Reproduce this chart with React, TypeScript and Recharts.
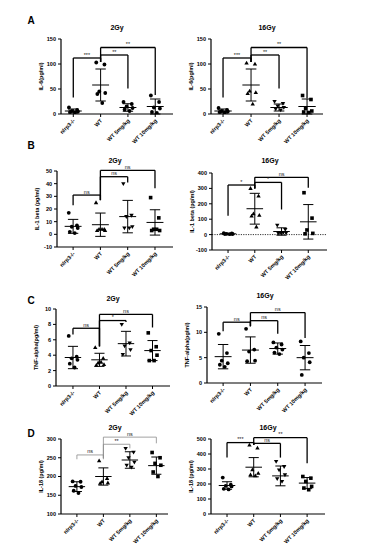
import React from 'react';
import { ScatterChart, Scatter, XAxis, YAxis, ReferenceLine } from 'recharts';

const FONT = "'Liberation Sans', Arial, Helvetica, sans-serif";
const GROUPS = ['nlrp3-/-', 'WT', 'WT 5mg/kg', 'WT 10mg/kg'];
const GROUP_INDEX = [0, 1, 2, 3];
const JITTER = [-0.16, 0.14, -0.05, 0.17, -0.12, 0.06];

// ---- A: IL-6 ----
const IL6_2GY_POINTS = [[13, 8, 6, 5, 4, 3], [103, 99, 45, 42, 40, 22], [24, 20, 15, 12, 9, 6], [37, 24, 13, 11, 4, 2]];
const IL6_2GY_MEAN = [6, 58, 13, 15];
const IL6_2GY_SD = [4, 32, 7.5, 15];
const IL6_2GY_SIG = [
  { from: 0, to: 1, y: 112, leftEnd: 33, rightEnd: 104, text: '***' },
  { from: 1, to: 2, y: 118, leftEnd: 104, rightEnd: 51, text: '**' },
  { from: 1, to: 3, y: 133, leftEnd: 104, rightEnd: 38, text: '**' },
];
const IL6_16GY_POINTS = [[12, 8, 6, 5, 4, 3], [102, 100, 46, 43, 41, 20], [25, 21, 16, 13, 10, 8], [37, 29, 11, 6, 4, 3]];
const IL6_16GY_MEAN = [6, 58, 13, 15];
const IL6_16GY_SD = [4, 32, 7, 15];
const IL6_16GY_SIG = [
  { from: 0, to: 1, y: 112, leftEnd: 33, rightEnd: 104, text: '***' },
  { from: 1, to: 2, y: 118, leftEnd: 104, rightEnd: 51, text: '**' },
  { from: 1, to: 3, y: 133, leftEnd: 104, rightEnd: 31, text: '**' },
];
const IL6_TICKS = [0, 50, 100, 150];

// ---- B: IL-1 beta ----
const IL1_2GY_POINTS = [[17, 7, 6, 5, 2, 1], [25, 4, 4, 3, 3, 4], [40, 15, 14, 6, 5, 5], [29, 13, 4, 3, 3, 4]];
const IL1_2GY_MEAN = [6.3, 7.6, 14, 9.4];
const IL1_2GY_SD = [5.5, 9.2, 12.8, 10];
const IL1_2GY_SIG = [
  { from: 0, to: 1, y: 31, leftEnd: 23, rightEnd: 27, text: 'ns' },
  { from: 1, to: 2, y: 45.5, leftEnd: 27, rightEnd: 41, text: 'ns' },
  { from: 1, to: 3, y: 50.5, leftEnd: 27, rightEnd: 36.4, text: 'ns' },
];
const IL1_2GY_TICKS = [-10, 0, 10, 20, 30, 40, 50];
const IL1_16GY_POINTS = [[9, 7, 5, 4, 4, 3], [300, 250, 135, 125, 120, 50], [61, 33, 13, 11, 9, 12], [272, 107, 30, 8, 5]];
const IL1_16GY_MEAN = [5, 168, 20, 83];
const IL1_16GY_SD = [3, 100, 24, 112];
const IL1_16GY_SIG = [
  { from: 0, to: 1, y: 322, leftEnd: 122, rightEnd: 300, text: '*' },
  { from: 1, to: 2, y: 339, leftEnd: 300, rightEnd: 163, text: '*' },
  { from: 1, to: 3, y: 372, leftEnd: 300, rightEnd: 304, text: 'ns' },
];
const IL1_16GY_TICKS = [-100, 0, 100, 200, 300, 400];

// ---- C: TNF-alpha ----
const TNF_2GY_POINTS = [[6.5, 3.8, 3.6, 3.4, 2.9, 2.4], [5.0, 3.6, 3.0, 2.8, 2.7, 3.1], [8.0, 5.6, 5.2, 4.7, 4.1], [6.9, 5.1, 4.6, 4.0, 3.3, 3.3]];
const TNF_2GY_MEAN = [3.7, 3.4, 5.5, 4.6];
const TNF_2GY_SD = [1.45, 0.85, 1.6, 1.3];
const TNF_2GY_SIG = [
  { from: 0, to: 1, y: 7.5, leftEnd: 6.7, rightEnd: 5.15, text: 'ns' },
  { from: 1, to: 2, y: 8.5, leftEnd: 5.15, rightEnd: 8.3, text: '*' },
  { from: 1, to: 3, y: 9.3, leftEnd: 5.15, rightEnd: 7.6, text: 'ns' },
];
const TNF_2GY_TICKS = [0, 2, 4, 6, 8, 10];
const TNF_16GY_POINTS = [[9.7, 5.9, 4.4, 3.9, 3.6, 3.2], [10.7, 6.6, 6.2, 4.4, 4.3], [8.0, 7.6, 7.0, 6.6, 6.0, 5.7], [8.2, 5.9, 5.0, 4.1, 1.6]];
const TNF_16GY_MEAN = [5.2, 6.5, 6.8, 5.0];
const TNF_16GY_SD = [2.4, 2.6, 1.1, 2.4];
const TNF_16GY_SIG = [
  { from: 0, to: 1, y: 12, leftEnd: 10.2, rightEnd: 11.2, text: 'ns' },
  { from: 1, to: 2, y: 12.3, leftEnd: 11.2, rightEnd: 9.7, text: 'ns' },
  { from: 1, to: 3, y: 13.9, leftEnd: 11.2, rightEnd: 8.9, text: 'ns' },
];
const TNF_16GY_TICKS = [0, 5, 10, 15];

// ---- D: IL-18 ----
const IL18_2GY_POINTS = [[187, 186, 175, 172, 162, 156], [242, 195, 186, 183, 182], [275, 265, 250, 238, 230, 225], [264, 250, 235, 230, 212, 200]];
const IL18_2GY_MEAN = [173, 200, 244, 229];
const IL18_2GY_SD = [13, 23, 22, 23];
const IL18_2GY_SIG = [
  { from: 0, to: 1, y: 257.5, leftEnd: 246, rightEnd: 246, text: 'ns' },
  { from: 1, to: 2, y: 286, leftEnd: 249, rightEnd: 275, text: '**' },
  { from: 1, to: 3, y: 305, leftEnd: 249, rightEnd: 288.5, text: 'ns' },
];
const IL18_2GY_TICKS = [100, 150, 200, 250, 300];
const IL18_16GY_POINTS = [[243, 195, 188, 184, 168, 164], [460, 440, 295, 272, 262, 255], [350, 316, 294, 261, 235, 217], [250, 239, 217, 184, 173, 162]];
const IL18_16GY_MEAN = [190, 312, 254, 206];
const IL18_16GY_SD = [25, 64, 66, 37];
const IL18_16GY_SIG = [
  { from: 0, to: 1, y: 476, leftEnd: 376, rightEnd: 460, text: '***' },
  { from: 1, to: 2, y: 471, leftEnd: 460, rightEnd: 376, text: 'ns' },
  { from: 1, to: 3, y: 509, leftEnd: 460, rightEnd: 338, text: '**' },
];
const IL18_16GY_TICKS = [0, 100, 200, 300, 400, 500];

const STD_MARKERS = ['circle', 'triangle', 'invtri', 'square'];
const CIRCLES = ['circle', 'circle', 'circle', 'circle'];

const PANELS = [
  { title: '2Gy', yLabel: 'IL-6(pg/ml)', points: IL6_2GY_POINTS, mean: IL6_2GY_MEAN, sd: IL6_2GY_SD, sig: IL6_2GY_SIG, ticks: IL6_TICKS, yDomain: [0, 150], markers: CIRCLES,
    plotLeft: 61, plotRight: 173, yTop: 39, yBottom: 114, xDomain: [-0.45, 3.65], titleX: 117, titleY: 27 },
  { title: '16Gy', yLabel: 'IL-6(pg/ml)', points: IL6_16GY_POINTS, mean: IL6_16GY_MEAN, sd: IL6_16GY_SD, sig: IL6_16GY_SIG, ticks: IL6_TICKS, yDomain: [0, 150], markers: STD_MARKERS,
    plotLeft: 211, plotRight: 323, yTop: 39, yBottom: 114, xDomain: [-0.43, 3.57], titleX: 267, titleY: 27 },
  { title: '2Gy', yLabel: 'IL-1 beta (pg/ml)', points: IL1_2GY_POINTS, mean: IL1_2GY_MEAN, sd: IL1_2GY_SD, sig: IL1_2GY_SIG, ticks: IL1_2GY_TICKS, yDomain: [-10, 50], markers: STD_MARKERS,
    plotLeft: 57, plotRight: 173, yTop: 171, yBottom: 247, xDomain: [-0.59, 3.66], titleX: 115, titleY: 160 },
  { title: '16Gy', yLabel: 'IL-1 beta (pg/ml)', points: IL1_16GY_POINTS, mean: IL1_16GY_MEAN, sd: IL1_16GY_SD, sig: IL1_16GY_SIG, ticks: IL1_16GY_TICKS, yDomain: [-100, 400], markers: STD_MARKERS,
    plotLeft: 212, plotRight: 327, yTop: 173, yBottom: 250, xDomain: [-0.6, 3.7], titleX: 270, titleY: 160, zeroLine: true },
  { title: '2Gy', yLabel: 'TNF-alpha(pg/ml)', points: TNF_2GY_POINTS, mean: TNF_2GY_MEAN, sd: TNF_2GY_SD, sig: TNF_2GY_SIG, ticks: TNF_2GY_TICKS, yDomain: [0, 10], markers: STD_MARKERS,
    plotLeft: 56, plotRight: 170, yTop: 309, yBottom: 386, xDomain: [-0.64, 3.66], titleX: 113, titleY: 298 },
  { title: '16Gy', yLabel: 'TNF-alpha(pg/ml)', points: TNF_16GY_POINTS, mean: TNF_16GY_MEAN, sd: TNF_16GY_SD, sig: TNF_16GY_SIG, ticks: TNF_16GY_TICKS, yDomain: [0, 15], markers: CIRCLES,
    plotLeft: 207, plotRight: 322, yTop: 307, yBottom: 383, xDomain: [-0.59, 3.62], titleX: 265, titleY: 295 },
  { title: '2Gy', yLabel: 'IL-18 (pg/ml)', points: IL18_2GY_POINTS, mean: IL18_2GY_MEAN, sd: IL18_2GY_SD, sig: IL18_2GY_SIG, ticks: IL18_2GY_TICKS, yDomain: [100, 300], markers: STD_MARKERS,
    plotLeft: 61, plotRight: 168, yTop: 439, yBottom: 514, xDomain: [-0.6, 3.44], titleX: 115, titleY: 427, grey: true },
  { title: '16Gy', yLabel: 'IL-18 (pg/ml)', points: IL18_16GY_POINTS, mean: IL18_16GY_MEAN, sd: IL18_16GY_SD, sig: IL18_16GY_SIG, ticks: IL18_16GY_TICKS, yDomain: [0, 500], markers: STD_MARKERS,
    plotLeft: 211, plotRight: 325, yTop: 439, yBottom: 514, xDomain: [-0.6, 3.67], titleX: 268, titleY: 427 },
];

const LETTERS = [
  { t: 'A', x: 31, y: 20 },
  { t: 'B', x: 31, y: 145 },
  { t: 'C', x: 31, y: 300 },
  { t: 'D', x: 31, y: 433 },
];

function makeShape(kind: string) {
  return (p: any) => {
    const { cx, cy } = p;
    if (cx == null || cy == null) return <g />;
    if (kind === 'triangle') return <path d={`M${cx},${cy - 2.3}L${cx + 2.2},${cy + 1.5}L${cx - 2.2},${cy + 1.5}Z`} fill="#000" />;
    if (kind === 'invtri') return <path d={`M${cx},${cy + 2.3}L${cx + 2.2},${cy - 1.5}L${cx - 2.2},${cy - 1.5}Z`} fill="#000" />;
    if (kind === 'square') return <rect x={cx - 1.8} y={cy - 1.8} width={3.6} height={3.6} fill="#000" />;
    return <circle cx={cx} cy={cy} r={1.9} fill="#000" />;
  };
}

function XTick(props: any) {
  const { x, y, payload } = props;
  return (
    <text x={x} y={y} dy={3} transform={`rotate(-45 ${x} ${y})`} textAnchor="end" fontSize={5.5} fontWeight={700} fill="#000" fontFamily={FONT}>
      {GROUPS[payload.value]}
    </text>
  );
}

function Panel({ cfg }: { cfg: any }) {
  const YW = 32, MT = 22, MR = 6, XH = 42;
  const width = cfg.plotRight - cfg.plotLeft + YW + MR;
  const height = cfg.yBottom - cfg.yTop + MT + XH;
  const bColor = cfg.grey ? '#8a8a8a' : '#000';
  const bWidth = cfg.grey ? 0.8 : 1.3;
  const lines: any[] = [];
  cfg.sig.forEach((b: any, k: number) => {
    lines.push(
      <ReferenceLine key={`bh${k}`} ifOverflow="visible" stroke={bColor} strokeWidth={bWidth}
        segment={[{ x: b.from, y: b.y }, { x: b.to, y: b.y }]}
        label={{ value: b.text, position: 'top', offset: 1.5, fontSize: 5.5, fill: '#222', fontFamily: FONT }} />,
      <ReferenceLine key={`bl${k}`} ifOverflow="visible" stroke={bColor} strokeWidth={bWidth}
        segment={[{ x: b.from, y: b.y }, { x: b.from, y: b.leftEnd }]} />,
      <ReferenceLine key={`br${k}`} ifOverflow="visible" stroke={bColor} strokeWidth={bWidth}
        segment={[{ x: b.to, y: b.y }, { x: b.to, y: b.rightEnd }]} />
    );
  });
  GROUP_INDEX.forEach((i) => {
    const m = cfg.mean[i];
    const s = cfg.sd[i];
    lines.push(
      <ReferenceLine key={`m${i}`} ifOverflow="visible" stroke="#000" strokeWidth={1}
        segment={[{ x: i - 0.31, y: m }, { x: i + 0.31, y: m }]} />,
      <ReferenceLine key={`v${i}`} ifOverflow="visible" stroke="#000" strokeWidth={1}
        segment={[{ x: i, y: m - s }, { x: i, y: m + s }]} />,
      <ReferenceLine key={`cu${i}`} ifOverflow="visible" stroke="#000" strokeWidth={1}
        segment={[{ x: i - 0.19, y: m + s }, { x: i + 0.19, y: m + s }]} />,
      <ReferenceLine key={`cl${i}`} ifOverflow="visible" stroke="#000" strokeWidth={1}
        segment={[{ x: i - 0.19, y: m - s }, { x: i + 0.19, y: m - s }]} />
    );
  });
  return (
    <div style={{ position: 'absolute', left: cfg.plotLeft - YW, top: cfg.yTop - MT }}>
      <ScatterChart width={width} height={height} margin={{ top: MT, right: MR, bottom: 0, left: 0 }}>
        <XAxis type="number" dataKey="x" domain={cfg.xDomain} ticks={[0, 1, 2, 3]} interval={0} height={XH}
          allowDataOverflow tick={<XTick />} tickSize={3}
          axisLine={{ stroke: '#000', strokeWidth: 1.2 }} tickLine={{ stroke: '#000', strokeWidth: 1 }} />
        <YAxis type="number" dataKey="y" domain={cfg.yDomain} ticks={cfg.ticks} interval={0} width={YW}
          allowDataOverflow tickSize={3}
          axisLine={{ stroke: '#000', strokeWidth: 1.2 }} tickLine={{ stroke: '#000', strokeWidth: 1 }}
          tick={{ fontSize: 5.5, fontWeight: 700, fill: '#000', fontFamily: FONT }}
          label={{ value: cfg.yLabel, angle: -90, position: 'insideLeft', offset: 12, fontSize: 5.5, fontWeight: 700, fill: '#000', fontFamily: FONT, style: { textAnchor: 'middle' } }} />
        {cfg.zeroLine ? <ReferenceLine y={0} stroke="#000" strokeWidth={0.8} strokeDasharray="1.2 1.2" /> : null}
        {lines}
        {GROUP_INDEX.map((i) => (
          <Scatter key={`s${i}`} isAnimationActive={false}
            data={cfg.points[i].map((v: number, j: number) => ({ x: i + JITTER[j % JITTER.length], y: v }))}
            shape={makeShape(cfg.markers[i])} />
        ))}
      </ScatterChart>
    </div>
  );
}

export default function App() {
  return (
    <div style={{ position: 'absolute', left: 0, top: 0, width: 368, height: 554, background: '#fff', fontFamily: FONT }}>
      {PANELS.map((p, k) => (
        <React.Fragment key={k}>
          <Panel cfg={p} />
          <div style={{ position: 'absolute', left: p.titleX, top: p.titleY, transform: 'translate(-50%, -50%)', fontSize: 7, fontWeight: 700, whiteSpace: 'nowrap' }}>{p.title}</div>
        </React.Fragment>
      ))}
      {LETTERS.map((l) => (
        <div key={l.t} style={{ position: 'absolute', left: l.x, top: l.y, transform: 'translate(-50%, -50%)', fontSize: 10, fontWeight: 700 }}>{l.t}</div>
      ))}
    </div>
  );
}
